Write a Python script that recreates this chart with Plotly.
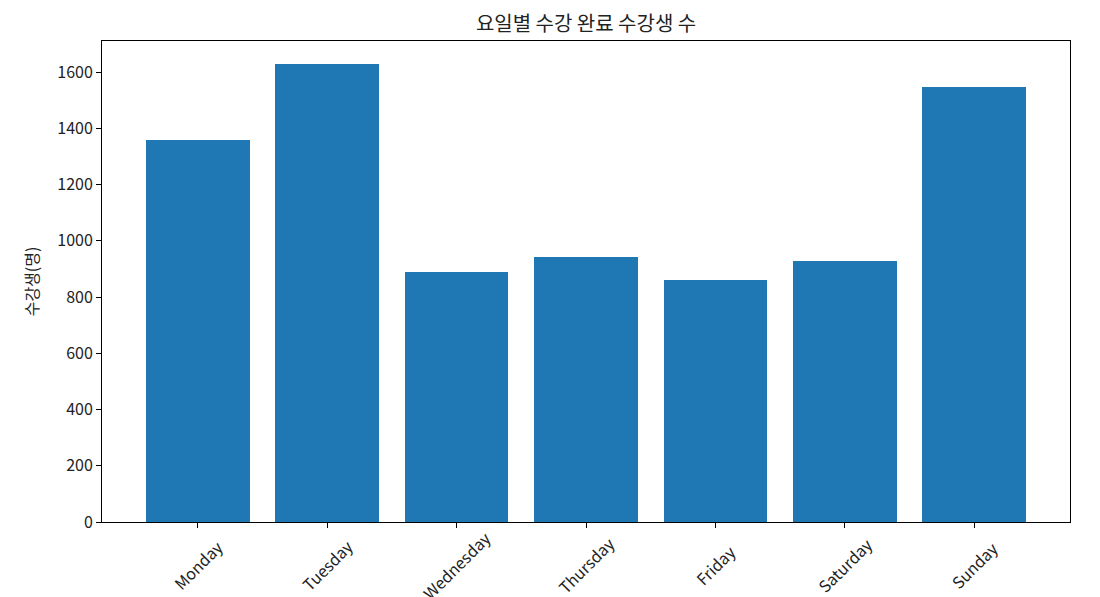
import plotly.graph_objects as go

# 요일별 수강 완료 수강생 수
days = ["Monday", "Tuesday", "Wednesday", "Thursday", "Friday", "Saturday", "Sunday"]
students = [1359, 1630, 888, 943, 861, 929, 1547]
y_ticks = [0, 200, 400, 600, 800, 1000, 1200, 1400, 1600]

FONT = "Noto Sans CJK KR"
BLUE = "#1f77b4"
TXT = "#222222"


def main():
    fig = go.Figure()

    fig.add_trace(go.Bar(
        x=list(range(len(days))),
        y=students,
        width=0.8,
        marker=dict(color=BLUE, line=dict(width=0)),
        hoverinfo="x+y"
    ))

    # rotated labels centred under each tick, like matplotlib rotation=45
    for i, day in enumerate(days):
        fig.add_annotation(
            x=i, y=0, xref="x", yref="y",
            text=day, textangle=-45,
            showarrow=False,
            xanchor="center", yanchor="middle",
            yshift=-43,
            font=dict(family=FONT, size=16, color=TXT)
        )

    # page has an 8px body margin, so the margins are shifted by that
    fig.update_layout(
        width=1100, height=597,
        margin=dict(l=94, r=38, t=33, b=83),
        paper_bgcolor="white",
        plot_bgcolor="white",
        showlegend=False,
        bargap=0,
        font=dict(family=FONT, size=16, color=TXT),
        title=dict(
            text="요일별 수강 완료 수강생 수",
            x=0.5255, xanchor="center",
            y=0.973, yanchor="middle",
            font=dict(family=FONT, size=20, color=TXT)
        ),
        xaxis=dict(
            range=[-0.74, 6.74],
            tickvals=list(range(len(days))),
            showticklabels=False,
            ticks="outside", ticklen=5, tickcolor="black",
            showline=True, linecolor="black", linewidth=1, mirror=True,
            showgrid=False, zeroline=False
        ),
        yaxis=dict(
            range=[0, 1711],
            tickvals=y_ticks,
            ticks="outside", ticklen=5, tickcolor="black",
            showline=True, linecolor="black", linewidth=1, mirror=True,
            showgrid=False, zeroline=False,
            title=dict(text="수강생(명)", standoff=14,
                       font=dict(family=FONT, size=16, color=TXT))
        )
    )

    fig.write_html("out.html")


if __name__ == "__main__":
    main()
